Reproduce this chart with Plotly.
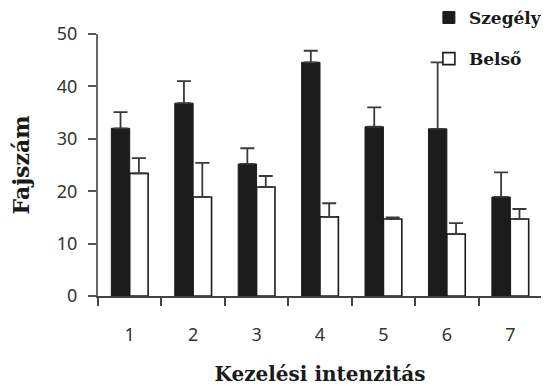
import plotly.graph_objects as go

categories = ["1", "2", "3", "4", "5", "6", "7"]
szegely = [32.0, 36.8, 25.2, 44.6, 32.3, 31.9, 18.9]
szegely_err = [3.1, 4.2, 3.0, 2.2, 3.7, 12.7, 4.7]
belso = [23.4, 18.9, 20.8, 15.1, 14.7, 11.8, 14.7]
belso_err = [2.9, 6.5, 2.1, 2.6, 0.3, 2.1, 1.9]
y_ticks = [0, 10, 20, 30, 40, 50]

serif = "DejaVu Serif"
tickfamily = "Noto Sans"

fig = go.Figure()
fig.add_trace(go.Bar(
    x=categories, y=szegely, name="<b>Szegély</b>", legendgroup="a",
    marker=dict(color="#1c1c1c", line=dict(color="#1c1c1c", width=1)),
    error_y=dict(type="data", symmetric=False, array=szegely_err,
                 arrayminus=[0] * len(szegely_err), color="#3a3a3a",
                 thickness=1.8, width=7),
))
fig.add_trace(go.Bar(
    x=categories, y=belso, name="<b>Belső</b>", legendgroup="b",
    marker=dict(color="white", line=dict(color="#1c1c1c", width=1.6)),
    error_y=dict(type="data", symmetric=False, array=belso_err,
                 arrayminus=[0] * len(belso_err), color="#3a3a3a",
                 thickness=1.8, width=7),
))

fig.update_layout(
    width=541, height=382,
    margin=dict(l=90, r=7, t=26, b=94, autoexpand=False),
    paper_bgcolor="white", plot_bgcolor="white",
    barmode="group", bargap=0.42, bargroupgap=0,
    showlegend=True,
    legend=dict(x=0.778, y=1.13, xref="container", yref="paper",
                xanchor="left", yanchor="top",
                font=dict(family=serif, size=17, color="#1a1a1a"),
                tracegroupgap=16, bgcolor="rgba(0,0,0,0)",
                itemwidth=30),
    xaxis=dict(
        type="category", tickson="boundaries", ticks="outside", ticklen=8,
        tickwidth=2, tickcolor="#444444",
        showline=True, linecolor="#444444", linewidth=2,
        showgrid=False, zeroline=False,
        tickfont=dict(family=tickfamily, size=18, color="#333333"),
        ticklabelstandoff=21,
        title=dict(text="<b>Kezelési intenzitás</b>",
                   font=dict(family=serif, size=20, color="#1a1a1a"),
                   standoff=22),
    ),
    yaxis=dict(
        range=[0, 50], tickvals=y_ticks, ticks="outside", ticklen=8,
        tickwidth=2, tickcolor="#555555",
        showline=True, linecolor="#666666", linewidth=2,
        showgrid=False, zeroline=False,
        tickfont=dict(family=tickfamily, size=18, color="#333333"),
        ticklabelstandoff=7,
        title=dict(text="<b>Fajszám</b>",
                   font=dict(family=serif, size=22, color="#1a1a1a"),
                   standoff=22),
    ),
)

fig.write_html("out.html")
